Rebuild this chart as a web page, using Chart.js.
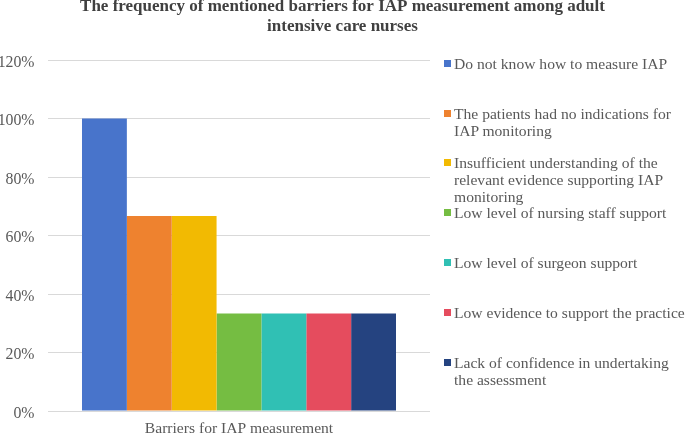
<!DOCTYPE html>
<html>
<head>
<meta charset="utf-8">
<script src="https://cdn.jsdelivr.net/npm/chart.js@4.4.1/dist/chart.umd.min.js"></script>
<style>
  html, body { margin: 0; padding: 0; overflow: hidden; background: #fff; }
  #wrap { position: relative; width: 685px; height: 435px; }
  #legend { position: absolute; left: 0; top: 0; width: 685px; height: 435px; pointer-events: none; }
  .li { position: absolute; left: 444px; width: 241px; font-family: 'Liberation Serif', 'Times New Roman', serif; font-size: 15.6px; line-height: 17px; color: #595959; }
  .li .mk { position: absolute; left: 0; top: 5px; width: 7px; height: 7px; }
  .li .tx { position: absolute; left: 10px; top: 0; width: 234px; }
</style>
</head>
<body>
<div id="wrap">
  <canvas id="c" width="685" height="435"></canvas>
  <div id="legend"></div>
</div>
<script>
const chartTitle = ['The frequency of mentioned barriers for IAP measurement among adult', 'intensive care nurses'];
const categories = ['Barriers for IAP measurement'];
const seriesNames = [
  'Do not know how to measure IAP',
  'The patients had no indications for IAP monitoring',
  'Insufficient understanding of the relevant evidence supporting IAP monitoring',
  'Low level of nursing staff support',
  'Low level of surgeon support',
  'Low evidence to support the practice',
  'Lack of confidence in undertaking the assessment'
];
const seriesValues = [100, 66.7, 66.7, 33.3, 33.3, 33.3, 33.3];
const seriesColors = ['#4874CB', '#EE822F', '#F2BA02', '#75BD42', '#30C0B4', '#E54C5E', '#254380'];
const yTickValues = [0, 20, 40, 60, 80, 100, 120];

const FONT = "'Liberation Serif', 'Times New Roman', serif";

const htmlLegend = {
  id: 'htmlLegend',
  afterUpdate(chart) {
    const box = document.getElementById('legend');
    box.innerHTML = '';
    const top0 = 54.6, step = 49.9;
    chart.data.datasets.forEach((ds, i) => {
      const item = document.createElement('div');
      item.className = 'li';
      item.style.top = (top0 + step * i) + 'px';
      const mk = document.createElement('div');
      mk.className = 'mk';
      mk.style.background = ds.backgroundColor;
      const tx = document.createElement('div');
      tx.className = 'tx';
      tx.textContent = ds.label;
      item.appendChild(mk);
      item.appendChild(tx);
      box.appendChild(item);
    });
  }
};

new Chart(document.getElementById('c'), {
  type: 'bar',
  data: {
    labels: categories,
    datasets: seriesNames.map((name, i) => ({
      label: name,
      data: [seriesValues[i]],
      backgroundColor: seriesColors[i],
      borderWidth: 0,
      barPercentage: 1,
      categoryPercentage: 0.822
    }))
  },
  options: {
    responsive: false,
    animation: false,
    devicePixelRatio: 1,
    layout: { padding: 0 },
    plugins: {
      legend: { display: false },
      tooltip: { enabled: false },
      title: {
        display: true,
        text: chartTitle,
        color: '#404040',
        font: { family: FONT, size: 17, weight: 'bold', lineHeight: 20 / 17 },
        padding: { top: -3, bottom: 23 }
      }
    },
    scales: {
      x: {
        grid: { display: false, drawTicks: false },
        border: { display: false },
        ticks: { color: '#595959', font: { family: FONT, size: 15.6 }, padding: 9 },
        afterFit(scale) { scale.height = 24; }
      },
      y: {
        min: 0, max: 120,
        afterBuildTicks(scale) { scale.ticks = yTickValues.map(v => ({ value: v })); },
        grid: { color: '#D9D9D9', lineWidth: 1, drawTicks: false },
        border: { display: false },
        ticks: { color: '#595959', font: { family: FONT, size: 15.8 }, padding: 13.5, labelOffset: 2.5, callback: v => v + '%' },
        afterFit(scale) { scale.width = 48; }
      },
      yRight: {
        position: 'right',
        display: true,
        grid: { display: false, drawTicks: false },
        border: { display: false },
        ticks: { display: false },
        afterFit(scale) { scale.width = 255; }
      }
    }
  },
  plugins: [htmlLegend]
});
</script>
</body>
</html>
